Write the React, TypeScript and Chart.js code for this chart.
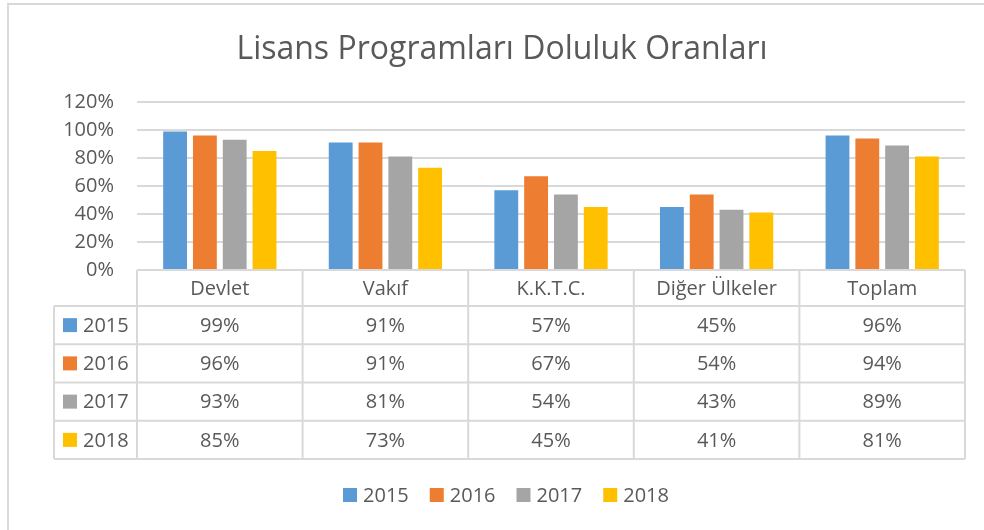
import React, { useEffect, useRef } from "react";
import { Chart, registerables } from "chart.js";

Chart.register(...registerables);

const title = "Lisans Programları Doluluk Oranları";
const categories = ["Devlet", "Vakıf", "K.K.T.C.", "Diğer Ülkeler", "Toplam"];
const seriesNames = ["2015", "2016", "2017", "2018"];
const values2015 = [99, 91, 57, 45, 96];
const values2016 = [96, 91, 67, 54, 94];
const values2017 = [93, 81, 54, 43, 89];
const values2018 = [85, 73, 45, 41, 81];
const seriesValues = [values2015, values2016, values2017, values2018];
const colors = ["#5B9BD5", "#ED7D31", "#A5A5A5", "#FFC000"];
const yTicks = [0, 20, 40, 60, 80, 100, 120];

const FONT = "'Open Sans', sans-serif";
const TEXT = "#595959";
const LINE = "#d9d9d9";

const tablePlugin = {
  id: "dataTable",
  beforeDraw(chart: any) {
    const { ctx } = chart;
    ctx.save();
    ctx.strokeStyle = LINE;
    ctx.lineWidth = 2;
    ctx.beginPath();
    ctx.moveTo(8, 1000);
    ctx.lineTo(8, 4);
    ctx.lineTo(1000, 4);
    ctx.stroke();
    // title
    ctx.fillStyle = TEXT;
    ctx.font = `32px ${FONT}`;
    ctx.textAlign = "center";
    ctx.textBaseline = "middle";
    ctx.fillText(title, 502, 50);
    ctx.restore();
  },
  afterDraw(chart: any) {
    const { ctx, chartArea } = chart;
    const x = chart.scales.x;
    const n = categories.length;
    const colW = (chartArea.right - chartArea.left) / n;
    const top = chartArea.bottom;
    const headerBottom = top + 36;
    const rowH = 38.25;
    const tableLeft = 54;
    const rows = chart.data.datasets.length;
    const bottom = headerBottom + rowH * rows;
    ctx.save();
    ctx.strokeStyle = LINE;
    ctx.lineWidth = 2;
    ctx.beginPath();
    ctx.moveTo(chartArea.left, top);
    ctx.lineTo(chartArea.right, top);
    for (let r = 0; r <= rows; r++) {
      const yy = headerBottom + r * rowH;
      ctx.moveTo(tableLeft, yy);
      ctx.lineTo(chartArea.right, yy);
    }
    ctx.moveTo(tableLeft, headerBottom);
    ctx.lineTo(tableLeft, bottom);
    for (let i = 0; i <= n; i++) {
      const xx = chartArea.left + i * colW;
      ctx.moveTo(xx, top);
      ctx.lineTo(xx, bottom);
    }
    ctx.stroke();

    ctx.fillStyle = TEXT;
    ctx.font = `20px ${FONT}`;
    ctx.textBaseline = "middle";
    ctx.textAlign = "center";
    for (let i = 0; i < n; i++) {
      const cx = x.getPixelForValue(i);
      ctx.fillText(chart.data.labels[i], cx, (top + headerBottom) / 2 + 1);
    }
    chart.data.datasets.forEach((ds: any, r: number) => {
      const cy = headerBottom + r * rowH + rowH / 2;
      ctx.textAlign = "center";
      ctx.fillStyle = TEXT;
      ds.data.forEach((v: number, i: number) => {
        ctx.fillText(`${v}%`, x.getPixelForValue(i), cy + 1);
      });
      ctx.fillStyle = ds.backgroundColor;
      ctx.fillRect(63, cy - 7, 14, 14);
      ctx.fillStyle = TEXT;
      ctx.textAlign = "left";
      ctx.fillText(ds.label, 83, cy + 1);
    });

    // legend
    const box = 14;
    const gap = 6;
    const itemGap = 21;
    const widths = chart.data.datasets.map((ds: any) => box + gap + ctx.measureText(ds.label).width);
    const total = widths.reduce((a: number, b: number) => a + b, 0) + itemGap * (widths.length - 1);
    let lx = 506 - total / 2;
    const ly = 495;
    chart.data.datasets.forEach((ds: any, i: number) => {
      ctx.fillStyle = ds.backgroundColor;
      ctx.fillRect(lx, ly - 7, box, box);
      ctx.fillStyle = TEXT;
      ctx.textAlign = "left";
      ctx.fillText(ds.label, lx + box + gap, ly + 1);
      lx += widths[i] + itemGap;
    });
    ctx.restore();
  },
};

export default function App() {
  const ref = useRef<HTMLCanvasElement | null>(null);
  useEffect(() => {
    if (!ref.current) return;
    const chart = new Chart(ref.current, {
      type: "bar",
      data: {
        labels: categories,
        datasets: seriesNames.map((name, i) => ({
          label: name,
          data: seriesValues[i],
          backgroundColor: colors[i],
          borderWidth: 0,
          categoryPercentage: 0.72,
          barPercentage: 0.8,
        })),
      },
      options: {
        animation: false,
        responsive: false,
        maintainAspectRatio: false,
        devicePixelRatio: 1,
        layout: { padding: { top: 102, right: 19, left: 0, bottom: 0 } },
        plugins: {
          legend: { display: false },
          title: { display: false },
          tooltip: { enabled: false },
        },
        scales: {
          x: {
            grid: { display: false },
            border: { display: false },
            ticks: { display: false },
            afterFit: (s: any) => {
              s.height = 260;
            },
          },
          y: {
            min: 0,
            max: 120,
            afterBuildTicks: (s: any) => {
              s.ticks = yTicks.map((v) => ({ value: v }));
            },
            afterFit: (s: any) => {
              s.width = 137;
            },
            grid: { color: LINE, lineWidth: 2, drawTicks: false },
            border: { display: false },
            ticks: {
              padding: 23,
              color: TEXT,
              font: { family: FONT, size: 20 },
              callback: (v: any) => `${v}%`,
            },
          },
        },
      },
      plugins: [tablePlugin],
    });
    return () => chart.destroy();
  }, []);
  return (
    <div style={{ position: "absolute", left: 0, top: 0, width: 984, height: 530, background: "#fff" }}>
      <canvas ref={ref} width={984} height={530} style={{ width: 984, height: 530, display: "block" }} />
    </div>
  );
}
